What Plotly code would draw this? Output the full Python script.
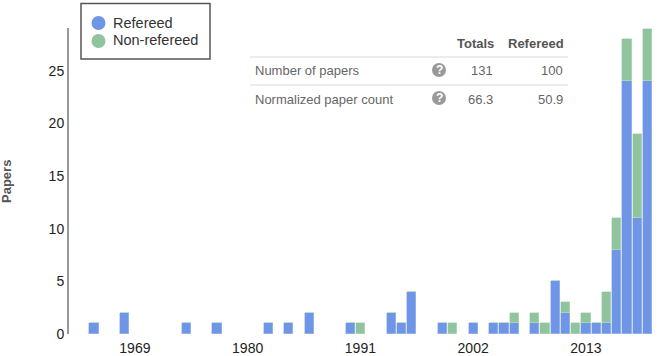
import plotly.graph_objects as go

years = [1965, 1968, 1974, 1977, 1982, 1984, 1986, 1990, 1991, 1994, 1995, 1996, 1999, 2000,
         2002, 2004, 2005, 2006, 2008, 2009, 2010, 2011, 2012, 2013, 2014, 2015, 2016, 2017, 2018, 2019]
refereed = [1, 2, 1, 1, 1, 1, 2, 1, 0, 2, 1, 4, 1, 0,
            1, 1, 1, 1, 1, 0, 5, 2, 0, 1, 1, 1, 8, 24, 11, 24]
non_refereed = [0, 0, 0, 0, 0, 0, 0, 0, 1, 0, 0, 0, 0, 1,
                0, 0, 0, 1, 1, 1, 0, 1, 1, 1, 0, 3, 3, 4, 8, 5]
x_ticks = [1969, 1980, 1991, 2002, 2013]
y_ticks = [0, 5, 10, 15, 20, 25]
series_names = ["Refereed", "Non-refereed"]
table_headers = ["Totals", "Refereed"]
table_rows = ["Number of papers", "Normalized paper count"]
table_totals = ["131", "66.3"]
table_refereed = ["100", "50.9"]

W, H = 660, 356
ML, MR, MT, MB = 69, 8, 28, 22
BLUE, GREEN = "#6f96e6", "#8fc49c"
FONT = "Liberation Sans"


def px(x):
    return (x - ML) / (W - ML - MR)


def py(y):
    return 1 - (y - MT) / (H - MT - MB)


fig = go.Figure()
fig.add_bar(x=years, y=refereed, name=series_names[0], marker_color=BLUE, width=0.9,
            marker_line=dict(color="#a9c0ef", width=0.6), showlegend=False)
fig.add_bar(x=years, y=non_refereed, name=series_names[1], marker_color=GREEN, width=0.9,
            marker_line=dict(color="#bcdcc4", width=0.6), showlegend=False)

ann = []
shapes = []


def circle(cx, cy, r, color):
    shapes.append(dict(type="circle", xref="paper", yref="paper", layer="above",
                       x0=px(cx - r), x1=px(cx + r), y0=py(cy + r), y1=py(cy - r),
                       fillcolor=color, line_width=0))


# legend box
shapes.append(dict(type="rect", xref="paper", yref="paper", x0=px(81), x1=px(210),
                   y0=py(59), y1=py(3.5), fillcolor="white", layer="above",
                   line=dict(color="#555555", width=1.5)))
for name, color, ly in zip(series_names, [BLUE, GREEN], [23, 41]):
    circle(98.5, ly, 7, color)
    ann.append(dict(x=px(111), y=py(ly - 0.5), text=name, xanchor="left",
                    font=dict(size=14.5, color="#333333")))

# table
for label, right in zip(table_headers, [496, 566]):
    ann.append(dict(x=px(right), y=py(43.5), text=f"<b>{label}</b>", xanchor="right",
                    font=dict(size=13, color="#555555")))
for i, ly in enumerate([71, 99]):
    ann.append(dict(x=px(253), y=py(ly), text=table_rows[i], xanchor="left",
                    font=dict(size=13, color="#666666")))
    ann.append(dict(x=px(495), y=py(ly), text=table_totals[i], xanchor="right",
                    font=dict(size=13, color="#666666")))
    ann.append(dict(x=px(565), y=py(ly), text=table_refereed[i], xanchor="right",
                    font=dict(size=13, color="#666666")))
    circle(439, ly - 1, 7, "#999999")
    ann.append(dict(x=px(439), y=py(ly - 1), text="<b>?</b>", xanchor="center",
                    font=dict(size=12, color="#ffffff")))
for ly in [57, 85]:
    shapes.append(dict(type="line", xref="paper", yref="paper", x0=px(250), x1=px(568),
                       y0=py(ly), y1=py(ly), line=dict(color="#e6e6e6", width=1.5)))
for a in ann:
    a.update(xref="paper", yref="paper", yanchor="middle", showarrow=False)
    a["font"]["family"] = FONT
ann.append(dict(x=px(6), y=py(182), xref="paper", yref="paper", text="<b>Papers</b>", textangle=-90,
                xanchor="center", yanchor="middle",
                showarrow=False, font=dict(size=13, color="#555555", family=FONT)))

fig.update_layout(
    width=W, height=H, barmode="stack", bargap=0, showlegend=False,
    margin=dict(l=ML, r=MR, t=MT, b=MB, pad=0, autoexpand=False),
    paper_bgcolor="white", plot_bgcolor="white",
    font=dict(family=FONT, size=14, color="#222222"),
    xaxis=dict(range=[1962.57, 2019.45], tickvals=x_ticks, showgrid=False, zeroline=False,
               showline=False, ticks="outside", ticklen=1, tickcolor="rgba(0,0,0,0)", automargin=False,
               tickfont=dict(size=14, color="#222222")),
    yaxis=dict(range=[0, 29.05], tickvals=y_ticks, showgrid=False, zeroline=False, automargin=False,
               showline=True, linecolor="#999999", linewidth=2, ticks="",
               tickfont=dict(size=14, color="#222222")),
    annotations=ann, shapes=shapes,
)
fig.write_html("out.html", config={"displayModeBar": False},
               post_script="document.body.style.margin='0';document.body.style.overflow='hidden';")
